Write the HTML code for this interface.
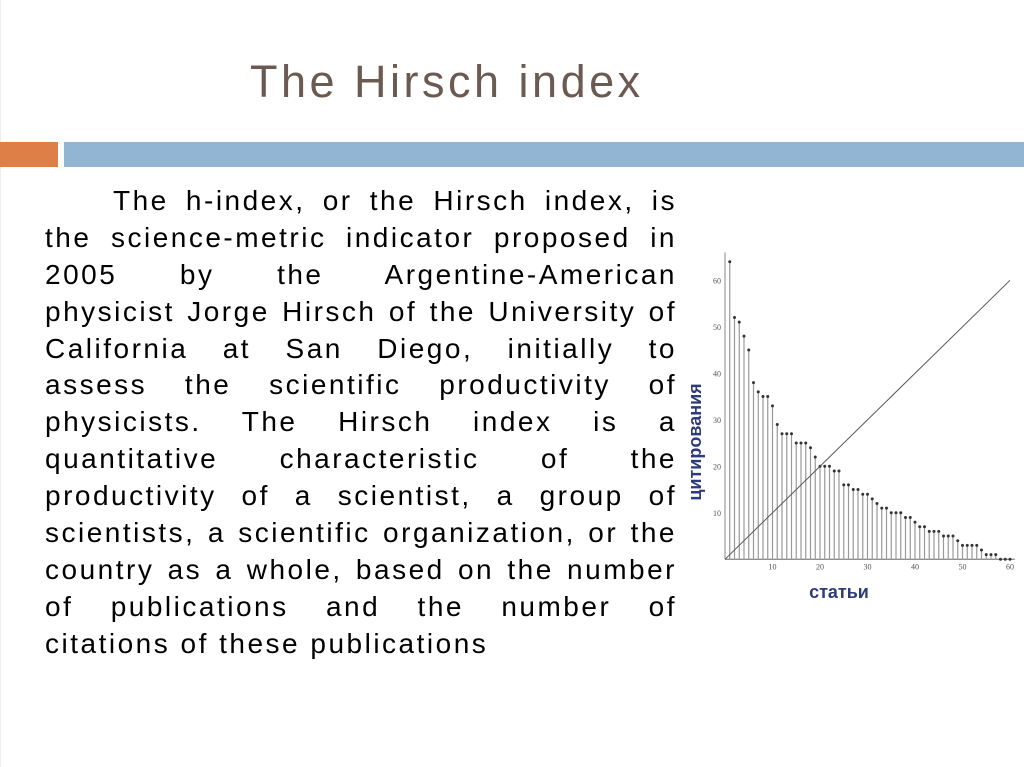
<!DOCTYPE html>
<html><head><meta charset="utf-8"><style>
body{margin:0;width:1024px;height:767px;background:#fff;overflow:hidden;position:relative;font-family:"Liberation Sans",sans-serif}
.t{position:absolute;left:250px;top:56px;font-size:45px;color:#6b5a52;letter-spacing:3.5px}
.body{position:absolute;left:45px;top:183px;width:632px;font-size:28px;line-height:36.9px;color:#000;letter-spacing:2.5px}
.body div{text-align:justify;text-align-last:justify;white-space:nowrap;height:36.9px}
.body div.last{text-align-last:left}
</style></head><body>
<div style="position:absolute;left:0;top:0;width:1px;height:767px;background:#eee"></div>
<div class="t">The Hirsch index</div>
<div style="position:absolute;left:0;top:142px;width:58px;height:25px;background:#df7f48"></div>
<div style="position:absolute;left:64px;top:142px;width:960px;height:25px;background:#92b5d4"></div>
<div class="body">
<div style="padding-left:68px">The h-index, or the Hirsch index, is</div>
<div>the science-metric indicator proposed in</div>
<div>2005 by the Argentine-American</div>
<div>physicist Jorge Hirsch of the University of</div>
<div>California at San Diego, initially to</div>
<div>assess the scientific productivity of</div>
<div>physicists. The Hirsch index is a</div>
<div>quantitative characteristic of the</div>
<div>productivity of a scientist, a group of</div>
<div>scientists, a scientific organization, or the</div>
<div>country as a whole, based on the number</div>
<div>of publications and the number of</div>
<div class="last">citations of these publications</div>
</div>
<svg id="chart" width="1024" height="767" style="position:absolute;left:0;top:0">
<text x="696" y="442" transform="rotate(-90 696 442)" text-anchor="middle" dominant-baseline="middle" font-family="Liberation Sans, sans-serif" font-weight="bold" font-size="18" fill="#2d3b7a">цитирования</text>
<text x="839" y="598" text-anchor="middle" font-family="Liberation Sans, sans-serif" font-weight="bold" font-size="18" fill="#2d3b7a">статьи</text>
</svg>
<script>
const citations=[64,52,51,48,45,38,36,35,35,33,29,27,27,27,25,25,25,24,22,20,20,20,19,19,16,16,15,15,14,14,13,12,11,11,10,10,10,9,9,8,7,7,6,6,6,5,5,5,4,3,3,3,3,2,1,1,1,0,0,0];
const xTicks=[10,20,30,40,50,60];
const yTicks=[10,20,30,40,50,60];
const x0=725,y0=559.3,xs=4.75,ys=4.65;
const X=v=>x0+v*xs, Y=v=>y0-v*ys;
const svg=document.getElementById('chart');
const NS='http://www.w3.org/2000/svg';
function mk(t,a){const e=document.createElementNS(NS,t);for(const k in a)e.setAttribute(k,a[k]);svg.appendChild(e);return e;}
let ax=mk('line',{x1:X(0),y1:Y(0),x2:X(61),y2:Y(0),stroke:'#666','stroke-width':1});


let ay=mk('line',{x1:X(0),y1:Y(0),x2:X(0),y2:Y(66),stroke:'#888','stroke-width':1});


xTicks.forEach(v=>{
 const t=mk('text',{x:X(v),y:Y(0)+10,'text-anchor':'middle','font-size':8,'font-family':'Liberation Serif, serif',fill:'#555'});
 t.textContent=v;
 
 
});
yTicks.forEach(v=>{
 const t=mk('text',{x:X(0)-4,y:Y(v)+3,'text-anchor':'end','font-size':8,'font-family':'Liberation Serif, serif',fill:'#555'});
 t.textContent=v;
 
 
});
citations.forEach((c,i)=>{
 const n=i+1;
 const l=mk('line',{x1:X(n),y1:Y(0),x2:X(n),y2:Y(c),stroke:'#999','stroke-width':1.2});
 
 
 const p=mk('circle',{cx:X(n),cy:Y(c),r:1.5,fill:'#333'});
 
 
});
const d=mk('line',{x1:X(0),y1:Y(0),x2:X(60),y2:Y(60),stroke:'#555','stroke-width':1});


</script>
</body></html>
